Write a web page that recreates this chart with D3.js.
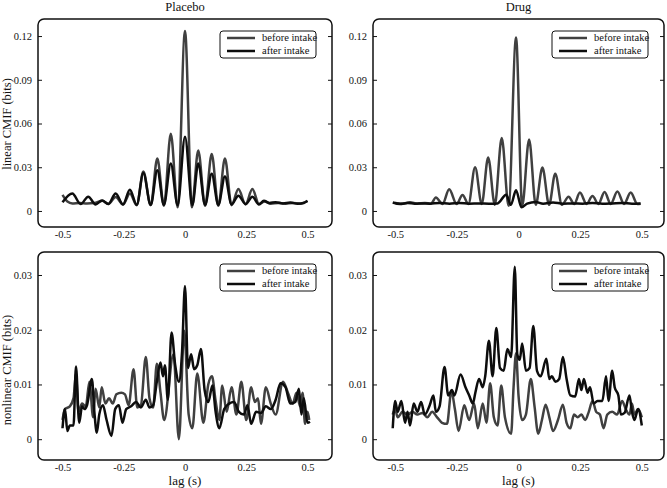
<!DOCTYPE html>
<html>
<head>
<meta charset="utf-8">
<script src="https://cdn.jsdelivr.net/npm/d3@7"></script>
<style>
    body { margin: 0; background: #fff; }
    svg { display: block; }
    svg text { font-family: "Liberation Serif", "DejaVu Serif", serif !important; fill: #111; }
</style>
</head>
<body>
<svg id="chart" width="667" height="488"></svg>
<script>
// lag (s), CMIF (bits)
const placeboLinearBefore = [[-0.5, 0.011], [-0.48, 0.0065], [-0.46, 0.0052], [-0.43, 0.0055], [-0.4, 0.0052], [-0.37, 0.0055], [-0.338, 0.007], [-0.313, 0.0048], [-0.283, 0.0095], [-0.253, 0.0045], [-0.225, 0.012], [-0.197, 0.004], [-0.17, 0.027], [-0.14, 0.004], [-0.113, 0.036], [-0.086, 0.0035], [-0.058, 0.053], [-0.03, 0.0025], [0, 0.1235], [0.028, 0.0025], [0.054, 0.0415], [0.082, 0.0035], [0.109, 0.039], [0.136, 0.0035], [0.163, 0.036], [0.19, 0.004], [0.218, 0.015], [0.247, 0.0045], [0.275, 0.015], [0.302, 0.0048], [0.325, 0.0065], [0.35, 0.005], [0.38, 0.0055], [0.41, 0.005], [0.44, 0.0055], [0.47, 0.005], [0.5, 0.007]];
const placeboLinearAfter = [[-0.5, 0.006], [-0.46, 0.012], [-0.426, 0.0047], [-0.395, 0.0098], [-0.365, 0.0045], [-0.338, 0.0072], [-0.313, 0.0048], [-0.283, 0.012], [-0.253, 0.0045], [-0.225, 0.0146], [-0.197, 0.0042], [-0.17, 0.026], [-0.14, 0.0042], [-0.113, 0.028], [-0.086, 0.0042], [-0.058, 0.0325], [-0.03, 0.004], [0, 0.051], [0.03, 0.004], [0.054, 0.0325], [0.082, 0.0042], [0.109, 0.0256], [0.136, 0.0042], [0.163, 0.0237], [0.19, 0.0045], [0.218, 0.0105], [0.248, 0.0048], [0.275, 0.0098], [0.302, 0.0045], [0.322, 0.007], [0.345, 0.0055], [0.37, 0.006], [0.4, 0.0052], [0.43, 0.0058], [0.46, 0.005], [0.485, 0.0055], [0.5, 0.0068]];

const drugLinearBefore = [[-0.5, 0.0055], [-0.47, 0.005], [-0.44, 0.006], [-0.41, 0.005], [-0.38, 0.0055], [-0.355, 0.005], [-0.335, 0.0093], [-0.308, 0.0048], [-0.281, 0.0149], [-0.251, 0.0048], [-0.227, 0.011], [-0.203, 0.0048], [-0.176, 0.030], [-0.149, 0.0048], [-0.123, 0.0367], [-0.096, 0.0042], [-0.068, 0.050], [-0.04, 0.0035], [-0.01, 0.119], [0.015, 0.0035], [0.043, 0.049], [0.07, 0.0042], [0.097, 0.0298], [0.124, 0.0042], [0.149, 0.0256], [0.176, 0.0042], [0.203, 0.0098], [0.226, 0.0048], [0.249, 0.0126], [0.276, 0.0048], [0.3, 0.0102], [0.324, 0.0048], [0.349, 0.013], [0.374, 0.0048], [0.401, 0.0133], [0.428, 0.0048], [0.455, 0.0126], [0.482, 0.0048], [0.495, 0.005]];
const drugLinearAfter = [[-0.51, 0.0058], [-0.48, 0.0048], [-0.45, 0.0055], [-0.42, 0.005], [-0.39, 0.0052], [-0.36, 0.005], [-0.32, 0.0055], [-0.28, 0.005], [-0.24, 0.0055], [-0.2, 0.005], [-0.16, 0.0052], [-0.12, 0.005], [-0.085, 0.0052], [-0.05, 0.0112], [-0.031, 0.0042], [-0.01, 0.0142], [0.012, 0.0025], [0.035, 0.005], [0.07, 0.0062], [0.1, 0.005], [0.14, 0.0058], [0.18, 0.005], [0.22, 0.0052], [0.26, 0.005], [0.3, 0.0055], [0.34, 0.005], [0.38, 0.0052], [0.42, 0.0055], [0.46, 0.005], [0.495, 0.0052]];

const placeboNonlinearBefore = [[-0.5, 0.0035], [-0.49, 0.0055], [-0.47, 0.006], [-0.455, 0.0075], [-0.445, 0.012], [-0.435, 0.005], [-0.42, 0.0065], [-0.405, 0.006], [-0.39, 0.0105], [-0.375, 0.004], [-0.365, 0.0092], [-0.35, 0.0058], [-0.34, 0.0095], [-0.325, 0.0065], [-0.31, 0.0075], [-0.295, 0.0065], [-0.28, 0.0082], [-0.26, 0.0085], [-0.245, 0.0082], [-0.23, 0.0062], [-0.21, 0.0128], [-0.195, 0.0058], [-0.18, 0.0062], [-0.16, 0.015], [-0.145, 0.0075], [-0.13, 0.0058], [-0.115, 0.0138], [-0.1, 0.0085], [-0.085, 0.0035], [-0.047, 0.0155], [-0.025, 0.0], [-0.003, 0.0198], [0.015, 0.0045], [0.03, 0.002], [0.05, 0.012], [0.075, 0.003], [0.095, 0.01], [0.11, 0.0115], [0.125, 0.007], [0.14, 0.0035], [0.152, 0.0098], [0.17, 0.005], [0.19, 0.0095], [0.21, 0.0045], [0.23, 0.0105], [0.25, 0.0035], [0.27, 0.0095], [0.285, 0.0068], [0.298, 0.0075], [0.31, 0.0028], [0.33, 0.0095], [0.35, 0.0065], [0.37, 0.0045], [0.4, 0.0105], [0.42, 0.0085], [0.44, 0.0065], [0.455, 0.0085], [0.47, 0.006], [0.48, 0.0085], [0.49, 0.0028], [0.5, 0.005], [0.507, 0.0035]];
const placeboNonlinearAfter = [[-0.5, 0.002], [-0.49, 0.0055], [-0.48, 0.0015], [-0.47, 0.0025], [-0.455, 0.0025], [-0.445, 0.0133], [-0.432, 0.003], [-0.42, 0.006], [-0.41, 0.0055], [-0.4, 0.0062], [-0.38, 0.011], [-0.37, 0.005], [-0.36, 0.0012], [-0.35, 0.0045], [-0.335, 0.0062], [-0.32, 0.0035], [-0.3, 0.0006], [-0.285, 0.0055], [-0.27, 0.0062], [-0.255, 0.003], [-0.24, 0.0055], [-0.22, 0.006], [-0.2, 0.0068], [-0.18, 0.0058], [-0.16, 0.0072], [-0.145, 0.0058], [-0.13, 0.0062], [-0.115, 0.0105], [-0.1, 0.014], [-0.09, 0.0115], [-0.082, 0.0135], [-0.07, 0.0072], [-0.055, 0.0195], [-0.04, 0.0135], [-0.025, 0.0105], [-0.012, 0.016], [0, 0.028], [0.012, 0.013], [0.025, 0.0155], [0.037, 0.0128], [0.05, 0.0135], [0.065, 0.0165], [0.08, 0.009], [0.095, 0.0068], [0.112, 0.0098], [0.125, 0.005], [0.14, 0.002], [0.16, 0.0055], [0.18, 0.0065], [0.2, 0.0068], [0.22, 0.005], [0.24, 0.0045], [0.255, 0.0062], [0.27, 0.0028], [0.29, 0.005], [0.31, 0.0048], [0.33, 0.006], [0.35, 0.0055], [0.37, 0.0072], [0.39, 0.0102], [0.41, 0.0095], [0.43, 0.0065], [0.45, 0.0068], [0.465, 0.0092], [0.475, 0.0045], [0.485, 0.0075], [0.5, 0.003], [0.51, 0.0032]];

const drugNonlinearBefore = [[-0.51, 0.0045], [-0.5, 0.0055], [-0.49, 0.004], [-0.47, 0.005], [-0.45, 0.0045], [-0.43, 0.005], [-0.41, 0.0045], [-0.39, 0.0048], [-0.37, 0.004], [-0.35, 0.005], [-0.33, 0.004], [-0.31, 0.003], [-0.29, 0.0028], [-0.272, 0.0088], [-0.258, 0.0055], [-0.243, 0.0015], [-0.22, 0.0062], [-0.2, 0.0035], [-0.18, 0.0065], [-0.165, 0.002], [-0.145, 0.0065], [-0.13, 0.003], [-0.115, 0.0102], [-0.1, 0.004], [-0.085, 0.0025], [-0.07, 0.0098], [-0.055, 0.004], [-0.03, 0.001], [-0.02, 0.0095], [-0.01, 0.0157], [0, 0.008], [0.015, 0.0035], [0.03, 0.0045], [0.05, 0.011], [0.065, 0.006], [0.08, 0.001], [0.095, 0.0035], [0.11, 0.0063], [0.125, 0.004], [0.14, 0.0015], [0.16, 0.0035], [0.18, 0.0063], [0.195, 0.003], [0.21, 0.002], [0.225, 0.0045], [0.24, 0.004], [0.255, 0.0045], [0.27, 0.0035], [0.285, 0.005], [0.3, 0.007], [0.315, 0.005], [0.33, 0.0045], [0.345, 0.002], [0.36, 0.0045], [0.38, 0.005], [0.4, 0.0045], [0.42, 0.007], [0.435, 0.0055], [0.45, 0.0045], [0.46, 0.0065], [0.47, 0.0045], [0.485, 0.0055], [0.5, 0.004]];
const drugNonlinearAfter = [[-0.51, 0.002], [-0.5, 0.007], [-0.49, 0.005], [-0.475, 0.007], [-0.46, 0.003], [-0.45, 0.005], [-0.44, 0.0025], [-0.425, 0.0065], [-0.41, 0.005], [-0.395, 0.0068], [-0.38, 0.0045], [-0.36, 0.0062], [-0.345, 0.008], [-0.335, 0.005], [-0.32, 0.006], [-0.3, 0.0132], [-0.285, 0.008], [-0.27, 0.009], [-0.26, 0.008], [-0.235, 0.0118], [-0.215, 0.0095], [-0.2, 0.008], [-0.185, 0.0065], [-0.175, 0.0085], [-0.16, 0.011], [-0.145, 0.0095], [-0.135, 0.0115], [-0.12, 0.018], [-0.105, 0.0115], [-0.09, 0.0203], [-0.075, 0.013], [-0.06, 0.0125], [-0.045, 0.0165], [-0.03, 0.015], [-0.015, 0.0315], [-0.005, 0.0155], [0.005, 0.0145], [0.015, 0.0175], [0.03, 0.0125], [0.045, 0.013], [0.06, 0.0207], [0.075, 0.0125], [0.09, 0.0115], [0.113, 0.0147], [0.125, 0.011], [0.135, 0.0115], [0.15, 0.0105], [0.165, 0.011], [0.18, 0.015], [0.195, 0.011], [0.21, 0.008], [0.23, 0.0078], [0.245, 0.011], [0.255, 0.009], [0.265, 0.011], [0.28, 0.0085], [0.29, 0.0095], [0.305, 0.0065], [0.32, 0.007], [0.34, 0.007], [0.355, 0.0115], [0.365, 0.007], [0.38, 0.0125], [0.39, 0.0095], [0.405, 0.008], [0.415, 0.0045], [0.43, 0.0048], [0.45, 0.008], [0.46, 0.005], [0.47, 0.0035], [0.485, 0.0055], [0.5, 0.0025]];

const xTicks = [-0.5, -0.25, 0, 0.25, 0.5];
const linearTicks = [0, 0.03, 0.06, 0.09, 0.12];
const nonlinearTicks = [0, 0.01, 0.02, 0.03];
const seriesNames = ["before intake", "after intake"];
const seriesColors = ["#404040", "#0d0d0d"];

const svg = d3.select("#chart");

const panels = [
    { title: "Placebo", ylabel: "linear CMIF (bits)", labelY: 124, series: [placeboLinearBefore, placeboLinearAfter],
      x0: 38, x1: 332, y0: 19, y1: 227, xd: [-0.6, 0.6], yd: [-0.011, 0.1317], ticks: linearTicks },
    { title: "Drug", series: [drugLinearBefore, drugLinearAfter],
      x0: 373, x1: 664, y0: 19, y1: 227, xd: [-0.59, 0.59], yd: [-0.011, 0.1317], ticks: linearTicks },
    { ylabel: "nonlinear CMIF (bits)", labelY: 370, xlabel: "lag (s)", series: [placeboNonlinearBefore, placeboNonlinearAfter],
      x0: 38, x1: 332, y0: 252, y1: 460, xd: [-0.6, 0.6], yd: [-0.0038, 0.0342], ticks: nonlinearTicks },
    { xlabel: "lag (s)", series: [drugNonlinearBefore, drugNonlinearAfter],
      x0: 373, x1: 664, y0: 252, y1: 460, xd: [-0.59, 0.59], yd: [-0.0038, 0.0342], ticks: nonlinearTicks }
];

const fmt = v => v === 0 ? "0" : String(v);

panels.forEach(p => {
    let x = d3.scaleLinear().domain(p.xd).range([p.x0, p.x1]);
    let y = d3.scaleLinear().domain(p.yd).range([p.y1, p.y0]);
    let g = svg.append("g");

    let line = d3.line()
        .x(d => x(d[0]))
        .y(d => y(d[1]))
        .curve(d3.curveMonotoneX);

    g.selectAll("path.series")
        .data(p.series)
        .enter()
        .append("path")
        .attr("class", "series")
        .attr("d", line)
        .attr("fill", "none")
        .attr("stroke", (d, i) => seriesColors[i])
        .attr("stroke-width", 2.5)
        .attr("stroke-linejoin", "round");

    // inward ticks on both sides
    let left = g.append("g")
        .attr("transform", `translate(${p.x0},0)`)
        .call(d3.axisLeft(y).tickValues(p.ticks).tickSize(-4).tickPadding(6).tickFormat(fmt));
    let right = g.append("g")
        .attr("transform", `translate(${p.x1},0)`)
        .call(d3.axisRight(y).tickValues(p.ticks).tickSize(-4).tickFormat(""));
    let bottom = g.append("g")
        .attr("transform", `translate(0,${p.y1})`)
        .call(d3.axisBottom(x).tickValues(xTicks).tickSize(0).tickPadding(4).tickFormat(fmt));

    [left, right, bottom].forEach(a => {
        a.select(".domain").remove();
        a.attr("font-family", null).attr("font-size", 10.5);
        a.selectAll("line").attr("stroke", "#111").attr("stroke-width", 1);
    });

    g.append("rect")
        .attr("x", p.x0).attr("y", p.y0)
        .attr("width", p.x1 - p.x0).attr("height", p.y1 - p.y0)
        .attr("rx", 6)
        .attr("fill", "none")
        .attr("stroke", "#111")
        .attr("stroke-width", 1.5);

    if (p.title) {
        g.append("text")
            .attr("x", (x(-0.5) + x(0.5)) / 2).attr("y", 11)
            .attr("text-anchor", "middle")
            .attr("font-size", 12.5)
            .text(p.title);
    }
    if (p.xlabel) {
        g.append("text")
            .attr("x", (x(-0.5) + x(0.5)) / 2).attr("y", 485)
            .attr("text-anchor", "middle")
            .attr("font-size", 13)
            .text(p.xlabel);
    }
    if (p.ylabel) {
        g.append("text")
            .attr("transform", `translate(11,${p.labelY}) rotate(-90)`)
            .attr("text-anchor", "middle")
            .attr("font-size", 12.5)
            .text(p.ylabel);
    }

    // legend
    let lx = p.x1 - 112, ly = p.y0 + 12;
    let leg = g.append("g").attr("transform", `translate(${lx},${ly})`);
    leg.append("rect")
        .attr("width", 96).attr("height", 27).attr("rx", 3)
        .attr("fill", "#fff").attr("stroke", "#111").attr("stroke-width", 1);
    let items = leg.selectAll("g.item")
        .data(seriesNames)
        .enter()
        .append("g")
        .attr("class", "item")
        .attr("transform", (d, i) => `translate(0,${7 + i * 13})`);
    items.append("line")
        .attr("x1", 7).attr("x2", 35)
        .attr("stroke", (d, i) => seriesColors[i])
        .attr("stroke-width", 2.5);
    items.append("text")
        .attr("x", 42).attr("dy", "0.33em")
        .attr("font-size", 10.5)
        .text(d => d);
});
</script>
</body>
</html>
